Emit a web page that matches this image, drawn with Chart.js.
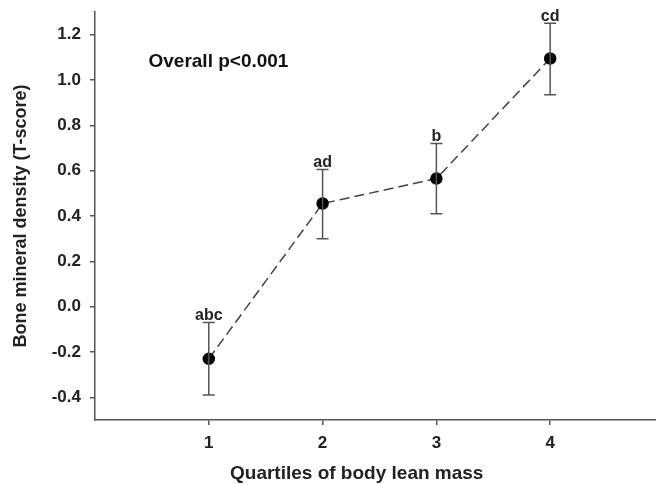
<!DOCTYPE html>
<html>
<head>
<meta charset="utf-8">
<script src="https://cdn.jsdelivr.net/npm/chart.js@4.4.0/dist/chart.umd.min.js"></script>
<style>
  html, body { margin: 0; padding: 0; background: #fff; }
  #wrap { width: 656px; height: 484px; }
</style>
</head>
<body>
<div id="wrap"><canvas id="grafico"></canvas></div>
<script>
// dados
const quartis = [1, 2, 3, 4];
const media = [-0.23, 0.455, 0.565, 1.095];
const erroSup = [-0.07, 0.605, 0.72, 1.25];
const erroInf = [-0.39, 0.30, 0.41, 0.935];
const letras = ["abc", "ad", "b", "cd"];
const ticksY = [-0.4, -0.2, 0.0, 0.2, 0.4, 0.6, 0.8, 1.0, 1.2];

const fonte = "'Liberation Sans', Arial, sans-serif";
const cinza = "#555";

// barras de erro + letras + texto do p-valor + título do eixo x
const extras = {
  id: "extras",
  afterDatasetsDraw(chart) {
    const ctx = chart.ctx;
    const sx = chart.scales.x, sy = chart.scales.y;
    ctx.save();
    ctx.strokeStyle = cinza;
    ctx.lineWidth = 1.5;
    quartis.forEach(function (q, i) {
      const px = sx.getPixelForValue(q);
      const top = sy.getPixelForValue(erroSup[i]);
      const bot = sy.getPixelForValue(erroInf[i]);
      ctx.beginPath();
      ctx.moveTo(px, top); ctx.lineTo(px, bot);
      ctx.moveTo(px - 6, top); ctx.lineTo(px + 6, top);
      ctx.moveTo(px - 6, bot); ctx.lineTo(px + 6, bot);
      ctx.stroke();
      ctx.fillStyle = "#222";
      ctx.font = "bold 16px " + fonte;
      ctx.textAlign = "center";
      ctx.textBaseline = "bottom";
      ctx.fillText(letras[i], px, top + 1);
    });
    ctx.fillStyle = "#111";
    ctx.font = "bold 19px " + fonte;
    ctx.textAlign = "left";
    ctx.textBaseline = "middle";
    ctx.fillText("Overall p<0.001", sx.getPixelForValue(0.47), sy.getPixelForValue(1.08));
    // título do eixo x (no original fica um pouco à esquerda do centro)
    ctx.fillStyle = "#222";
    ctx.textAlign = "center";
    ctx.fillText("Quartiles of body lean mass", sx.getPixelForValue(2.3), sx.bottom - 10);
    ctx.restore();
  }
};

new Chart(document.getElementById("grafico"), {
  type: "scatter",
  data: {
    datasets: [{
      data: quartis.map(function (q, i) { return { x: q, y: media[i] }; }),
      showLine: true,
      borderColor: "#444",
      borderWidth: 1.5,
      borderDash: [10, 5],
      pointRadius: 5.5,
      pointBackgroundColor: "#000",
      pointBorderColor: "#000"
    }]
  },
  options: {
    responsive: true,
    maintainAspectRatio: false,
    animation: false,
    layout: { autoPadding: false, padding: { top: 12, right: 0, left: 0, bottom: 0 } },
    plugins: { legend: { display: false }, tooltip: { enabled: false } },
    scales: {
      x: {
        type: "linear",
        min: 0,
        max: 4.93,
        afterBuildTicks: function (s) { s.ticks = quartis.map(function (v) { return { value: v }; }); },
        afterFit: function (s) { s.height = 64; s.paddingLeft = 0; s.paddingRight = 0; },
        border: { display: true, color: cinza, width: 1.5 },
        grid: { drawOnChartArea: false, drawTicks: true, tickLength: 5, color: cinza, lineWidth: 1.5 },
        ticks: { color: "#222", padding: 8, font: { family: fonte, size: 17, weight: "bold" } }
      },
      y: {
        min: -0.5,
        max: 1.3,
        afterBuildTicks: function (s) { s.ticks = ticksY.map(function (v) { return { value: v }; }); },
        afterFit: function (s) { s.width = 95; s.paddingTop = 0; s.paddingBottom = 0; },
        border: { display: true, color: cinza, width: 1.5 },
        grid: { drawOnChartArea: false, drawTicks: true, tickLength: 5, color: cinza, lineWidth: 1.5 },
        ticks: { color: "#222", padding: 9, font: { family: fonte, size: 17, weight: "bold" },
                 callback: function (v) { return v.toFixed(1); } },
        title: { display: true, text: "Bone mineral density (T-score)", color: "#222", padding: { top: 10, bottom: 4 },
                 font: { family: fonte, size: 18, weight: "bold" } }
      }
    }
  },
  plugins: [extras]
});
</script>
</body>
</html>
